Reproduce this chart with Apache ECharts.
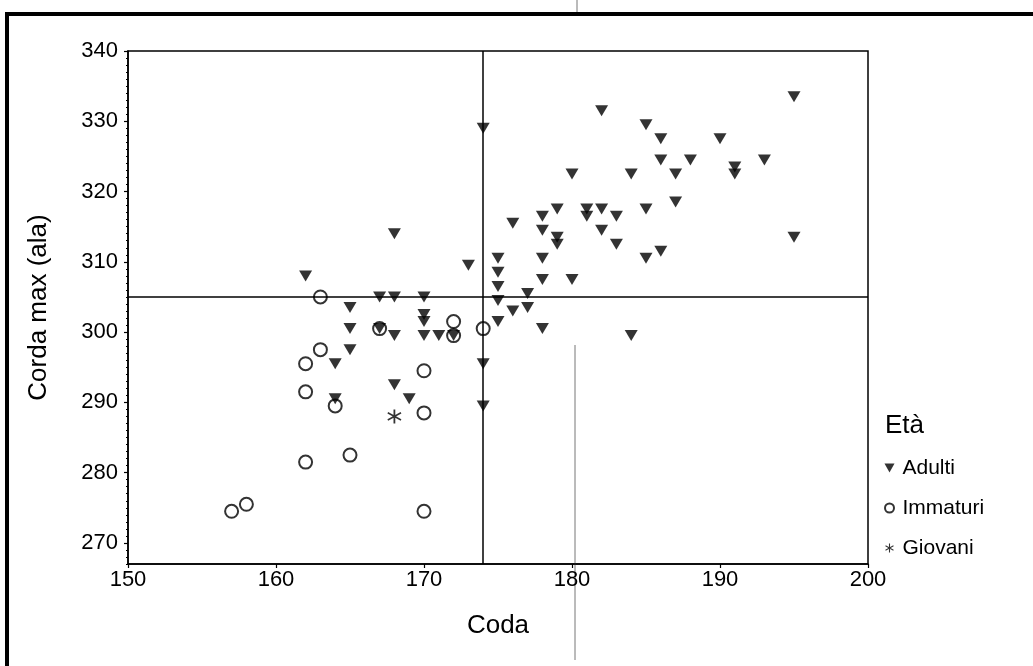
<!DOCTYPE html>
<html>
<head>
<meta charset="utf-8">
<script src="https://cdn.jsdelivr.net/npm/echarts@6/dist/echarts.min.js"></script>
<style>
html,body{margin:0;padding:0;background:#fff;}
#c{width:1033px;height:666px;}
</style>
</head>
<body>
<div id="c"></div>
<script>
// ---- data (Coda, Corda max) ----
const xTicks = [150, 160, 170, 180, 190, 200];
const yTicks = [270, 280, 290, 300, 310, 320, 330, 340];
const yMin = 267;
const seriesNames = ['Adulti', 'Immaturi', 'Giovani'];
const refCoda = 174;
const refCorda = 305;

const adulti = [
  [195, 333.5], [182, 331.5], [185, 329.5], [186, 327.5], [190, 327.5],
  [186, 324.5], [188, 324.5], [193, 324.5], [191, 323.5], [191, 322.5],
  [180, 322.5], [184, 322.5], [187, 322.5], [187, 318.5], [179, 317.5],
  [181, 317.5], [181, 316.5], [182, 317.5], [183, 316.5], [185, 317.5],
  [178, 316.5], [176, 315.5], [178, 314.5], [182, 314.5], [179, 313.5],
  [179, 312.5], [183, 312.5], [195, 313.5], [186, 311.5], [185, 310.5],
  [178, 310.5], [175, 310.5], [175, 308.5], [175, 306.5], [178, 307.5],
  [180, 307.5], [177, 305.5], [175, 304.5], [176, 303], [177, 303.5],
  [175, 301.5], [178, 300.5], [184, 299.5], [174, 295.5], [174, 289.5],
  [174, 329], [168, 314], [162, 308], [173, 309.5],
  [167, 305], [168, 305], [170, 305], [165, 303.5], [170, 302.5],
  [170, 301.5], [165, 300.5], [167, 300.5], [168, 299.5], [170, 299.5],
  [171, 299.5], [172, 299.5], [165, 297.5], [164, 295.5], [168, 292.5],
  [169, 290.5], [164, 290.5]
];
const immaturi = [
  [163, 305], [172, 301.5], [174, 300.5], [167, 300.5], [172, 299.5],
  [163, 297.5], [162, 295.5], [170, 294.5], [162, 291.5], [164, 289.5],
  [170, 288.5], [162, 281.5], [165, 282.5], [158, 275.5], [157, 274.5],
  [170, 274.5]
];
const giovani = [
  [168, 288]
];

const FONT = '"Liberation Sans", Arial, Helvetica, sans-serif';
const triDown = 'path://M0,0 L10,0 L5,9 Z';
const asterisk = 'path://M8.8,0 L11.2,0 L11.2,20 L8.8,20 Z M1.64,3.79 L19.36,14.09 L18.36,16.21 L0.64,5.91 Z M0.64,14.09 L18.36,3.79 L19.36,5.91 L1.64,16.21 Z';

// minor tick positions along the value axis (every unit)
const yMinor = [];
for (let v = yMin; v <= yTicks[yTicks.length - 1]; v++) yMinor.push(v);

const chart = echarts.init(document.getElementById('c'), null, {renderer: 'canvas'});
chart.setOption({
  animation: false,
  backgroundColor: '#ffffff',
  textStyle: {fontFamily: FONT, color: '#000'},
  grid: {
    left: 128, right: 165, top: 51, bottom: 102,
    show: true, borderColor: '#000', borderWidth: 1.5, backgroundColor: 'transparent'
  },
  xAxis: {
    type: 'value', min: xTicks[0], max: xTicks[xTicks.length - 1], interval: 10,
    name: 'Coda', nameLocation: 'middle', nameGap: 49,
    nameTextStyle: {fontSize: 26, color: '#000', fontFamily: FONT},
    axisLine: {show: true, onZero: false, lineStyle: {color: '#000', width: 1.5}},
    axisTick: {show: true, length: 4, lineStyle: {color: '#000', width: 1.2}},
    axisLabel: {fontSize: 22, color: '#000', margin: 5, fontFamily: FONT},
    splitLine: {show: false}
  },
  yAxis: [{
    type: 'value', min: yMin, max: yTicks[yTicks.length - 1],
    name: 'Corda max (ala)', nameLocation: 'middle', nameGap: 76,
    nameTextStyle: {fontSize: 26, color: '#000', fontFamily: FONT},
    axisLine: {show: true, onZero: false, lineStyle: {color: '#000', width: 1.5}},
    axisTick: {show: true, length: 4, customValues: yTicks, lineStyle: {color: '#000', width: 1.2}},
    axisLabel: {fontSize: 22, color: '#000', margin: 10, fontFamily: FONT, customValues: yTicks},
    splitLine: {show: false}
  }, {
    type: 'value', min: yMin, max: yTicks[yTicks.length - 1], position: 'left',
    axisLine: {show: false},
    axisTick: {show: true, length: 2, customValues: yMinor, lineStyle: {color: '#000', width: 1}},
    axisLabel: {show: false},
    splitLine: {show: false}
  }],
  legend: {
    orient: 'vertical', left: 879, top: 452,
    itemWidth: 10, itemHeight: 9, itemGap: 18,
    textStyle: {fontSize: 21, color: '#000', fontFamily: FONT, lineHeight: 22, padding: [0, 0, 0, 3]},
    data: seriesNames
  },
  graphic: [
    {type: 'text', left: 885, top: 413, style: {text: 'Età', fontSize: 26, fill: '#000', fontFamily: FONT}},
    {type: 'rect', shape: {x: 5, y: 12, width: 1028, height: 4}, style: {fill: '#000'}},
    {type: 'rect', shape: {x: 5, y: 12, width: 4, height: 654}, style: {fill: '#000'}},
    {type: 'line', shape: {x1: 575, y1: 345, x2: 575, y2: 660}, style: {stroke: '#777', lineWidth: 1}},
    {type: 'line', shape: {x1: 577, y1: 0, x2: 577, y2: 12}, style: {stroke: '#777', lineWidth: 1}}
  ],
  series: [
    {
      name: seriesNames[1], type: 'scatter', data: immaturi,
      symbol: 'circle', symbolSize: 13,
      itemStyle: {color: 'rgba(255,255,255,0)', borderColor: '#000', borderWidth: 2},
      z: 3
    },
    {
      name: seriesNames[0], type: 'scatter', data: adulti,
      symbol: triDown, symbolSize: [13, 11],
      itemStyle: {color: '#000'},
      z: 4,
      markLine: {
        silent: true, symbol: ['none', 'none'],
        label: {show: false},
        lineStyle: {color: '#000', width: 1.5, type: 'solid'},
        data: [{xAxis: refCoda}, {yAxis: refCorda}]
      }
    },
    {
      name: seriesNames[2], type: 'scatter', data: giovani,
      symbol: asterisk, symbolSize: 14,
      itemStyle: {color: '#000'},
      z: 5
    }
  ]
});
</script>
</body>
</html>
